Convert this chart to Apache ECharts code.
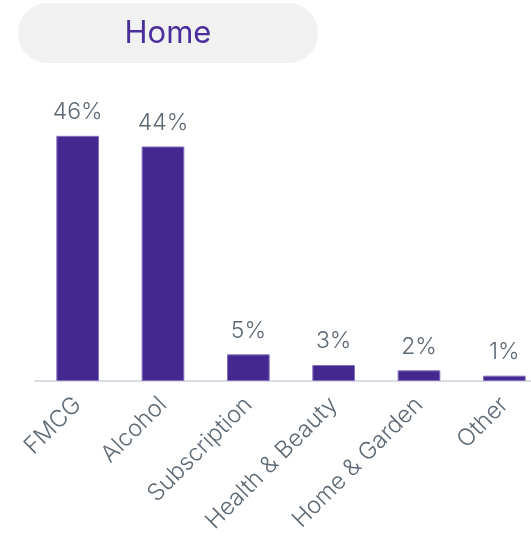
<!DOCTYPE html>
<html>
<head>
<meta charset="utf-8">
<script src="https://cdn.jsdelivr.net/npm/echarts@6/dist/echarts.min.js"></script>
<style>
  html, body { margin: 0; padding: 0; background: #ffffff; overflow: hidden; }
  #chart { width: 548px; height: 544px; }
</style>
</head>
<body>
<div id="chart"></div>
<script>
// Share by retail category (percent)
const categories = ['FMCG', 'Alcohol', 'Subscription', 'Health & Beauty', 'Home & Garden', 'Other'];
const shares = [46, 44, 5, 3, 2, 1];
const heading = 'Home';

const chart = echarts.init(document.getElementById('chart'), null, { renderer: 'canvas' });

chart.setOption({
  animation: false,
  backgroundColor: '#ffffff',
  graphic: [
    {
      type: 'group',
      left: 18,
      top: 3,
      children: [
        {
          type: 'rect',
          shape: { x: 0, y: 0, width: 300, height: 60, r: 30 },
          style: { fill: '#f1f1f1' }
        },
        {
          type: 'text',
          style: {
            x: 150,
            y: 31,
            text: heading,
            align: 'center',
            verticalAlign: 'middle',
            fill: '#4b2d9c',
            font: '400 31px Inter, Roboto, sans-serif'
          }
        }
      ]
    }
  ],
  grid: {
    left: 35,
    right: 1,
    top: 114.5,
    height: 266.5,
    containLabel: false
  },
  xAxis: {
    type: 'category',
    data: categories,
    axisLine: { show: true, lineStyle: { color: '#dcdde4', width: 2 } },
    axisTick: { show: false },
    axisLabel: {
      rotate: 45,
      interval: 0,
      margin: 20,
      color: '#5d6975',
      fontFamily: 'Inter, Roboto, sans-serif',
      fontWeight: 300,
      fontSize: 23.5
    }
  },
  yAxis: {
    type: 'value',
    min: 0,
    max: 50,
    show: false,
    splitLine: { show: false }
  },
  series: [{
    type: 'bar',
    data: shares,
    barWidth: '50%',
    itemStyle: {
      color: '#45288f',
      borderColor: '#8270c0',
      borderWidth: 1
    },
    label: {
      show: true,
      position: 'top',
      distance: 12,
      formatter: '{c}%',
      color: '#5d6975',
      fontFamily: 'Inter, Roboto, sans-serif',
      fontWeight: 300,
      fontSize: 23
    }
  }]
});
</script>
</body>
</html>
